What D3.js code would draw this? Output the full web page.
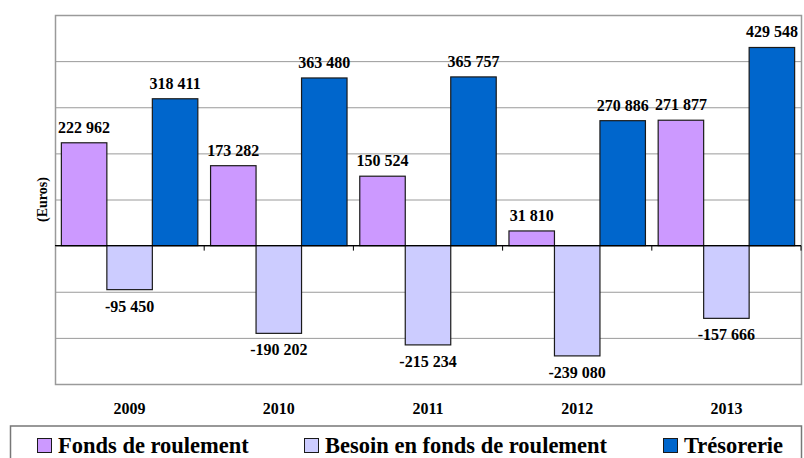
<!DOCTYPE html>
<html>
<head>
<meta charset="utf-8">
<script src="https://cdn.jsdelivr.net/npm/d3@7"></script>
<style>
  body { margin: 0; background: #fff; }
</style>
</head>
<body>
<svg id="chart" width="804" height="458"></svg>
<script>
var years = ['2009', '2010', '2011', '2012', '2013'];
var seriesNames = ['Fonds de roulement', 'Besoin en fonds de roulement', 'Trésorerie'];
var fondsRoulement = [222962, 173282, 150524, 31810, 271877];
var besoinFonds = [-95450, -190202, -215234, -239080, -157666];
var tresorerie = [318411, 363480, 365757, 270886, 429548];
var gridTicks = [-300000, -200000, -100000, 0, 100000, 200000, 300000, 400000, 500000];

var colors = ['#CC99FF', '#CCCCFF', '#0066CC'];
var allValues = [fondsRoulement, besoinFonds, tresorerie];
var serif = "'Liberation Serif', 'Times New Roman', serif";

var margin = { left: 55, right: 3, top: 15, bottom: 74 }
  , width = 804 - margin.left - margin.right
  , height = 458 - margin.top - margin.bottom;

var svg = d3.select('#chart');
var g = svg.append('g').attr('transform', 'translate(' + margin.left + ',' + margin.top + ')');

var x0 = d3.scaleBand().domain(years).range([0, width]).padding(0);
var x1 = d3.scaleBand().domain(seriesNames).range([0, x0.bandwidth()]).paddingInner(0).paddingOuter(0.14);
var y = d3.scaleLinear().domain([-300000, 500000]).range([height, 0]);

// gridlines
g.selectAll('.grid').data(gridTicks).enter().append('line')
  .attr('x1', 0).attr('x2', width)
  .attr('y1', function (d) { return y(d) + 0.5; }).attr('y2', function (d) { return y(d) + 0.5; })
  .style('stroke', '#9a9a9a').style('stroke-width', 1);

// plot frame
g.append('rect').attr('x', 0.5).attr('y', 0.5).attr('width', width).attr('height', height)
  .style('fill', 'none').style('stroke', '#9a9a9a').style('stroke-width', 1.5);

// bars
var rows = [];
years.forEach(function (yr, i) {
  seriesNames.forEach(function (s, j) {
    rows.push({ year: yr, series: s, value: allValues[j][i], color: colors[j] });
  });
});

g.selectAll('.bar').data(rows).enter().append('rect')
  .attr('x', function (d) { return x0(d.year) + x1(d.series); })
  .attr('y', function (d) { return y(Math.max(0, d.value)); })
  .attr('width', x1.bandwidth())
  .attr('height', function (d) { return Math.abs(y(d.value) - y(0)); })
  .style('fill', function (d) { return d.color; })
  .style('stroke', '#1a1a1a').style('stroke-width', 1.2);

// zero line with ticks between groups
g.append('line').attr('x1', 0).attr('x2', width).attr('y1', y(0)).attr('y2', y(0))
  .style('stroke', '#000').style('stroke-width', 1.3);
g.selectAll('.tick-mark').data(years).enter().append('line')
  .attr('x1', function (d) { return x0(d) + x0.step(); })
  .attr('x2', function (d) { return x0(d) + x0.step(); })
  .attr('y1', y(0)).attr('y2', y(0) + 5)
  .style('stroke', '#000');

// value labels
function fmt(v) {
  var s = Math.abs(v).toString().replace(/\B(?=(\d{3})+(?!\d))/g, ' ');
  return (v < 0 ? '-' : '') + s;
}
g.selectAll('.val').data(rows).enter().append('text')
  .attr('x', function (d) { return x0(d.year) + x1(d.series) + x1.bandwidth() / 2; })
  .attr('y', function (d) { return d.value >= 0 ? y(d.value) - 10 : y(d.value) + 22; })
  .attr('text-anchor', 'middle')
  .style('font-family', serif).style('font-weight', 'bold').style('font-size', '16px')
  .text(function (d) { return fmt(d.value); });

// year labels
g.selectAll('.year').data(years).enter().append('text')
  .attr('x', function (d) { return x0(d) + x0.bandwidth() / 2; })
  .attr('y', height + 30)
  .attr('text-anchor', 'middle')
  .style('font-family', serif).style('font-weight', 'bold').style('font-size', '16px')
  .text(function (d) { return d; });

// y axis title
svg.append('text')
  .attr('transform', 'translate(47,' + (margin.top + height / 2) + ') rotate(-90)')
  .attr('text-anchor', 'middle')
  .style('font-family', serif).style('font-weight', 'bold').style('font-size', '14px')
  .text('(Euros)');

// legend
var legend = svg.append('g');
legend.append('rect').attr('x', 10.5).attr('y', 426).attr('width', 791).attr('height', 40)
  .style('fill', '#fff').style('stroke', '#777').style('stroke-width', 1.5);
var legendX = [37, 304, 663];
var items = legend.selectAll('.item').data(seriesNames).enter().append('g')
  .attr('transform', function (d, i) { return 'translate(' + legendX[i] + ',438)'; });
items.append('rect').attr('x', 0.5).attr('y', 0.5).attr('width', 14).attr('height', 14)
  .style('fill', function (d, i) { return colors[i]; })
  .style('stroke', '#1a1a1a').style('stroke-width', 1);
items.append('text').attr('x', 21).attr('y', 14.5)
  .style('font-family', serif).style('font-weight', 'bold').style('font-size', '22.5px')
  .text(function (d) { return d; });
</script>
</body>
</html>
